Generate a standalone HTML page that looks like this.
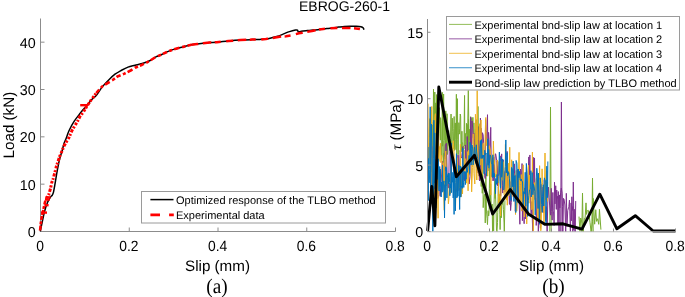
<!DOCTYPE html>
<html><head><meta charset="utf-8"><style>html,body{margin:0;padding:0;background:#fff;width:685px;height:297px;overflow:hidden}svg{display:block;will-change:transform}text{text-rendering:geometricPrecision}</style></head>
<body><svg width="685" height="297" viewBox="0 0 685 297">
<rect width="685" height="297" fill="#fff"/>
<line x1="40.5" y1="18.5" x2="40.5" y2="231.5" stroke="#8c8c8c" stroke-width="1"/>
<line x1="40.5" y1="231.5" x2="395.5" y2="231.5" stroke="#8c8c8c" stroke-width="1"/>
<line x1="40.5" y1="231.50" x2="44.5" y2="231.50" stroke="#8c8c8c" stroke-width="1"/>
<text x="35.7" y="237.00" text-anchor="end" style="font-family:'Liberation Sans',sans-serif;font-size:14.3px">0</text>
<line x1="40.5" y1="184.17" x2="44.5" y2="184.17" stroke="#8c8c8c" stroke-width="1"/>
<text x="35.7" y="189.67" text-anchor="end" style="font-family:'Liberation Sans',sans-serif;font-size:14.3px">10</text>
<line x1="40.5" y1="136.83" x2="44.5" y2="136.83" stroke="#8c8c8c" stroke-width="1"/>
<text x="35.7" y="142.33" text-anchor="end" style="font-family:'Liberation Sans',sans-serif;font-size:14.3px">20</text>
<line x1="40.5" y1="89.50" x2="44.5" y2="89.50" stroke="#8c8c8c" stroke-width="1"/>
<text x="35.7" y="95.00" text-anchor="end" style="font-family:'Liberation Sans',sans-serif;font-size:14.3px">30</text>
<line x1="40.5" y1="42.17" x2="44.5" y2="42.17" stroke="#8c8c8c" stroke-width="1"/>
<text x="35.7" y="47.67" text-anchor="end" style="font-family:'Liberation Sans',sans-serif;font-size:14.3px">40</text>
<line x1="40.50" y1="231.5" x2="40.50" y2="227.5" stroke="#8c8c8c" stroke-width="1"/>
<text transform="translate(40.10,250.5) scale(0.97,1.04)" text-anchor="middle" style="font-family:'Liberation Sans',sans-serif;font-size:14.3px">0</text>
<line x1="129.25" y1="231.5" x2="129.25" y2="227.5" stroke="#8c8c8c" stroke-width="1"/>
<text transform="translate(128.85,250.5) scale(0.97,1.04)" text-anchor="middle" style="font-family:'Liberation Sans',sans-serif;font-size:14.3px">0.2</text>
<line x1="218.00" y1="231.5" x2="218.00" y2="227.5" stroke="#8c8c8c" stroke-width="1"/>
<text transform="translate(217.60,250.5) scale(0.97,1.04)" text-anchor="middle" style="font-family:'Liberation Sans',sans-serif;font-size:14.3px">0.4</text>
<line x1="306.75" y1="231.5" x2="306.75" y2="227.5" stroke="#8c8c8c" stroke-width="1"/>
<text transform="translate(306.35,250.5) scale(0.97,1.04)" text-anchor="middle" style="font-family:'Liberation Sans',sans-serif;font-size:14.3px">0.6</text>
<line x1="395.50" y1="231.5" x2="395.50" y2="227.5" stroke="#8c8c8c" stroke-width="1"/>
<text transform="translate(395.10,250.5) scale(0.97,1.04)" text-anchor="middle" style="font-family:'Liberation Sans',sans-serif;font-size:14.3px">0.8</text>
<path d="M40.30,231.30 C40.98,228.08 43.20,216.80 44.40,212.00 C45.60,207.20 46.43,205.07 47.50,202.50 C48.57,199.93 50.02,197.80 50.80,196.60 C51.58,195.40 51.75,196.05 52.20,195.30 C52.65,194.55 53.08,193.72 53.50,192.10 C53.92,190.48 54.28,187.95 54.70,185.60 C55.12,183.25 55.57,180.55 56.00,178.00 C56.43,175.45 56.87,172.67 57.30,170.30 C57.73,167.93 58.18,165.77 58.60,163.80 C59.02,161.83 59.20,160.72 59.80,158.50 C60.40,156.28 61.50,152.98 62.20,150.50 C62.90,148.02 63.35,145.60 64.00,143.60 C64.65,141.60 65.25,140.68 66.10,138.50 C66.95,136.32 67.77,133.35 69.10,130.50 C70.43,127.65 72.25,124.27 74.10,121.40 C75.95,118.53 78.33,115.67 80.20,113.30 C82.07,110.93 83.28,109.57 85.30,107.20 C87.32,104.83 90.38,101.17 92.30,99.10 C94.22,97.03 95.17,96.80 96.80,94.80 C98.43,92.80 100.03,89.65 102.10,87.10 C104.17,84.55 107.05,81.65 109.20,79.50 C111.35,77.35 113.05,75.68 115.00,74.20 C116.95,72.72 118.73,71.78 120.90,70.60 C123.07,69.42 125.63,67.98 128.00,67.10 C130.37,66.22 132.73,65.90 135.10,65.30 C137.47,64.70 139.68,64.30 142.20,63.50 C144.72,62.70 147.92,61.60 150.20,60.50 C152.48,59.40 153.97,57.90 155.90,56.90 C157.83,55.90 159.83,55.38 161.80,54.50 C163.77,53.62 165.73,52.45 167.70,51.60 C169.67,50.75 171.63,50.03 173.60,49.40 C175.57,48.77 177.53,48.32 179.50,47.80 C181.47,47.28 183.43,46.80 185.40,46.30 C187.37,45.80 189.33,45.17 191.30,44.80 C193.27,44.43 195.23,44.35 197.20,44.10 C199.17,43.85 201.03,43.57 203.10,43.30 C205.17,43.03 207.32,42.68 209.60,42.50 C211.88,42.32 213.63,42.45 216.80,42.20 C219.97,41.95 224.67,41.35 228.60,41.00 C232.53,40.65 236.47,40.33 240.40,40.10 C244.33,39.87 248.93,39.72 252.20,39.60 C255.47,39.48 257.72,39.50 260.00,39.40 C262.28,39.30 263.93,39.27 265.90,39.00 C267.87,38.73 269.83,38.25 271.80,37.80 C273.77,37.35 275.73,36.95 277.70,36.30 C279.67,35.65 281.63,34.68 283.60,33.90 C285.57,33.12 287.53,32.23 289.50,31.60 C291.47,30.97 294.07,30.35 295.40,30.10 C296.73,29.85 297.02,29.80 297.50,30.10 C297.98,30.40 297.67,31.72 298.30,31.90 C298.93,32.08 299.82,31.42 301.30,31.20 C302.78,30.98 305.23,30.78 307.20,30.60 C309.17,30.42 311.03,30.27 313.10,30.10 C315.17,29.93 317.32,29.87 319.60,29.60 C321.88,29.33 324.62,28.78 326.80,28.50 C328.98,28.22 330.73,28.13 332.70,27.90 C334.67,27.67 336.63,27.35 338.60,27.10 C340.57,26.85 342.53,26.55 344.50,26.40 C346.47,26.25 348.43,26.23 350.40,26.20 C352.37,26.17 354.53,26.12 356.30,26.20 C358.07,26.28 359.83,26.42 361.00,26.70 C362.17,26.98 362.82,27.40 363.30,27.90 C363.78,28.40 363.80,29.40 363.90,29.70" fill="none" stroke="#000" stroke-width="1.5" stroke-linejoin="round"/>
<polyline points="40.10,230.50 40.70,224.00 41.40,219.00 42.30,214.50 43.30,210.00 44.10,206.00 45.00,202.00 46.50,198.50" fill="none" stroke="#ff0000" stroke-width="2.6" stroke-dasharray="5,1.2,3,1.5,4,1" stroke-linejoin="round"/>
<polyline points="46.50,198.50 48.90,194.10 50.50,188.50 51.70,182.80 53.30,178.40 54.40,174.00 55.40,170.30 56.50,165.80 58.10,161.30 59.60,156.70 62.10,150.80 64.00,146.00 66.00,142.60 69.00,137.50 72.00,130.50 75.00,125.40 78.00,120.40 80.00,116.30 83.20,112.30 86.30,107.20 90.30,101.20 93.30,97.10 96.20,93.00" fill="none" stroke="#ff0000" stroke-width="3" stroke-dasharray="2.6,1.3,1.9,1.6,3.3,1.2,2.2,1.8" stroke-linejoin="round"/>
<polyline points="96.20,93.00 102.10,86.50 106.80,83.60 112.70,80.00 117.40,76.50 124.50,73.60 131.60,70.00 135.10,67.70 142.20,64.70 149.20,61.20 155.90,56.90 161.80,54.50 167.70,51.60 173.60,49.40 179.50,47.80 185.40,46.30 191.30,44.80" fill="none" stroke="#ff0000" stroke-width="2.6" stroke-dasharray="4.5,2.5,3,2.2,5.5,2.8,3.5,2" stroke-linejoin="round"/>
<polyline points="191.30,44.80 197.20,44.10 203.10,43.30 209.60,42.50 216.80,42.20 228.60,41.00 240.40,40.10 252.20,39.60 260.00,39.50 265.90,39.00 275.30,37.50 281.20,36.60 286.00,36.30 290.70,35.50 298.90,33.30 302.50,32.70 307.20,31.90 311.90,31.00 319.00,29.40 323.30,28.90 330.00,28.20 336.00,27.90 344.50,27.90 353.30,28.20 358.00,28.70 364.00,29.90" fill="none" stroke="#ff0000" stroke-width="2.5" stroke-dasharray="7,4.6,8.5,3.5,6,5.5" stroke-linejoin="round"/>
<line x1="41" y1="212.6" x2="47" y2="212.6" stroke="#ff0000" stroke-width="2.4"/>
<line x1="44.4" y1="205.2" x2="48.6" y2="205.2" stroke="#ff0000" stroke-width="2.4"/>
<line x1="45" y1="199.6" x2="49.8" y2="199.6" stroke="#ff0000" stroke-width="2.4"/>
<line x1="45.5" y1="197.4" x2="50.5" y2="197.4" stroke="#ff0000" stroke-width="2.4"/>
<line x1="80.2" y1="105.2" x2="87.3" y2="105.2" stroke="#ff0000" stroke-width="2.4"/>
<line x1="87.3" y1="105.2" x2="85.2" y2="108.5" stroke="#ff0000" stroke-width="2.2"/>
<rect x="141.5" y="191.5" width="244" height="31.5" fill="#fff" stroke="#9a9a9a" stroke-width="1"/>
<line x1="150.4" y1="199.6" x2="173.5" y2="199.6" stroke="#000" stroke-width="1.5"/>
<line x1="150.4" y1="214.9" x2="173.8" y2="214.9" stroke="#ff0000" stroke-width="2.6" stroke-dasharray="9.6,9.1"/>
<text x="176" y="203.7" style="font-family:'Liberation Sans',sans-serif;font-size:11px">Optimized response of the TLBO method</text>
<text x="176" y="219" style="font-family:'Liberation Sans',sans-serif;font-size:11px">Experimental data</text>
<text x="217.5" y="270.6" text-anchor="middle" style="font-family:'Liberation Sans',sans-serif;font-size:15.2px">Slip (mm)</text>
<text transform="translate(217,292.5) scale(1,1.08)" text-anchor="middle" style="font-family:'Liberation Serif',serif;font-size:19.2px">(a)</text>
<text transform="translate(14,125.1) rotate(-90)" text-anchor="middle" style="font-family:'Liberation Sans',sans-serif;font-size:15.2px">Load (kN)</text>
<text x="344.5" y="10.6" text-anchor="middle" style="font-family:'Liberation Sans',sans-serif;font-size:14.0px">EBROG-260-1</text>
<polyline points="429.00,136.05 429.50,136.76 429.88,119.44 430.27,174.66 430.48,157.48 430.67,167.87 431.07,145.47 431.26,172.01 431.51,110.12 431.84,158.79 432.24,138.18 432.58,124.95 433.10,158.02 433.39,122.03 433.59,153.45 434.06,131.13 434.53,108.72 435.02,135.77 435.34,112.97 435.78,102.86 436.30,151.76 436.56,94.60 436.80,140.38 437.04,149.97 437.44,115.54 437.69,124.06 438.14,125.91 438.39,130.84 438.79,114.71 439.04,123.32 439.33,107.67 439.71,122.45 440.02,133.73 440.36,140.15 440.60,117.67 441.06,122.72 441.49,159.05 442.00,155.72 442.32,92.34 442.58,146.20 443.05,140.45 443.28,165.18 443.65,153.31 443.93,156.47 444.11,123.53 444.30,118.82 444.68,116.57 445.16,158.98 445.58,139.14 445.77,110.89 446.19,171.15 446.53,146.24 447.06,113.72 447.49,154.45 447.91,149.09 448.21,143.71 448.69,130.47 449.17,138.04 449.48,138.48 449.68,141.22 450.16,145.47 450.59,138.24 451.06,114.06 451.25,139.13 451.50,143.78 451.89,154.44 452.07,124.52 452.32,118.17 452.72,131.24 453.01,141.96 453.34,148.62 453.82,128.37 454.11,116.50 454.58,150.40 455.08,123.14 455.42,123.04 455.74,139.61 456.02,149.64 456.36,94.29 456.55,143.39 456.83,159.49 457.16,111.16 457.42,98.67 457.75,139.49 458.21,154.76 458.45,132.16 458.63,132.00 458.87,122.67 459.29,134.16 459.73,128.23 460.22,114.03 460.65,115.99 461.04,151.85 461.42,150.36 461.92,131.22 462.17,143.00 462.57,142.73 463.06,154.60 463.42,145.90 463.92,148.74 464.12,129.94 464.56,95.44 464.76,146.04 465.05,145.48 465.28,133.34 465.75,141.37 466.10,159.72 466.46,123.34 466.85,134.17 467.23,124.49 467.70,152.14 468.17,155.63 468.54,119.52 468.90,175.05 469.25,129.16 469.62,133.61 469.82,135.97 470.33,154.86 470.67,116.66 471.13,154.30 471.42,120.35 471.92,117.76 472.10,121.01 472.52,127.47 472.91,117.36 473.13,136.96 473.37,138.09 473.68,132.72 473.91,122.89 474.31,138.74 474.69,154.63 475.13,152.72 475.41,129.33 475.67,162.03 475.89,126.09 476.15,119.53 476.48,152.68 476.79,166.48 477.21,158.94 477.42,139.88 477.77,148.65 477.97,106.45 478.33,143.52 478.57,126.48 479.09,165.51 479.60,139.42 479.89,139.86 481.00,179.06 481.23,186.51 481.84,154.59 482.27,193.29 482.67,158.34 482.97,180.85 483.20,207.65 483.79,197.21 484.40,194.47 484.81,194.00 485.26,222.95 485.85,173.61 486.48,211.12 487.06,218.44 487.47,224.56 488.09,210.65 488.66,215.99 489.06,213.44 489.32,188.48 489.76,167.93 490.14,208.98 490.65,183.85 491.30,211.50 491.68,211.36 492.16,204.13 492.56,231.99 493.07,214.71 493.64,230.87 493.87,210.37 494.43,191.01 494.84,180.42 495.15,198.47 495.42,192.18 496.05,208.65 496.51,230.32 496.99,231.76 497.50,222.67 497.76,212.49 498.32,186.78 498.97,193.30 499.40,194.45 499.85,214.78 500.10,229.60 500.52,211.67 501.01,205.37 501.37,217.77 501.84,203.12 502.39,204.39 502.62,202.74 502.87,199.73 503.43,209.34 504.06,222.97 504.31,231.60 504.96,200.42" fill="none" stroke="#77ac30" stroke-width="1" stroke-linejoin="round"/>
<polyline points="433.00,150.00 433.50,89.00 434.20,140.00 434.80,92.00 435.50,150.00" fill="none" stroke="#77ac30" stroke-width="1" stroke-linejoin="round"/>
<polyline points="443.00,140.00 443.60,94.00 444.20,140.00" fill="none" stroke="#77ac30" stroke-width="1" stroke-linejoin="round"/>
<polyline points="467.50,140.00 468.30,90.50 469.00,140.00" fill="none" stroke="#77ac30" stroke-width="1" stroke-linejoin="round"/>
<polyline points="549.80,232.00 550.50,107.00 551.20,232.00" fill="none" stroke="#77ac30" stroke-width="1" stroke-linejoin="round"/>
<polyline points="579.00,216.60 579.98,231.24 580.72,218.01 582.16,223.32 583.13,231.31 584.44,218.36 585.06,218.75 586.01,202.88 586.57,214.39 587.19,210.73 588.36,210.35 589.12,214.95 590.04,222.69 591.07,231.90 592.52,221.68 593.26,198.40 594.65,224.20 595.78,209.72 596.55,221.35 597.62,218.74 598.75,224.34 599.44,209.32 600.92,229.61" fill="none" stroke="#77ac30" stroke-width="1" stroke-linejoin="round"/>
<polyline points="581.80,232.00 582.50,193.00 583.20,232.00" fill="none" stroke="#77ac30" stroke-width="1" stroke-linejoin="round"/>
<polyline points="591.80,232.00 592.50,178.00 593.20,232.00" fill="none" stroke="#77ac30" stroke-width="1" stroke-linejoin="round"/>
<polyline points="430.00,143.24 430.50,162.01 431.34,190.05 431.88,183.09 432.39,146.57 433.45,182.68 434.47,168.25 435.35,155.39 436.11,195.42 437.32,144.60 437.87,198.52 438.89,194.58 439.53,169.26 440.21,196.31 440.99,184.74 442.33,161.11 443.28,189.77 444.55,167.27 445.34,144.63 446.57,143.16 447.10,175.23 447.99,182.70 448.70,188.14 449.22,151.40 450.27,142.69 450.99,183.39 452.07,154.98 452.65,159.46 453.75,159.57 454.30,180.31 455.27,192.36 456.56,191.04 457.41,183.89 458.13,155.03 458.94,190.44 460.20,150.37 460.97,156.74 461.75,158.12 462.55,146.71 463.50,179.33 464.44,180.81 465.40,144.98 466.53,181.64 467.23,136.50 468.15,163.15 469.11,184.04 470.00,176.56 470.71,117.05 471.39,165.11 472.01,120.91 472.64,127.12 473.34,143.88 473.83,133.07 474.48,142.74 475.15,156.11 475.65,163.62 476.39,162.86 477.16,172.75 477.72,157.74 478.23,139.93 478.91,176.12 479.28,126.75 479.71,180.99 480.05,155.18 480.43,118.06 481.02,179.57 481.40,128.25 482.07,152.86 482.44,132.71 483.14,134.96 483.86,146.24 484.62,175.30 485.20,178.56 485.60,119.53 486.31,142.61 486.87,136.48 487.51,114.70 487.99,170.87 488.59,132.34 489.05,139.40 489.61,162.98 490.03,157.45 490.73,127.35 491.47,176.62 491.89,171.15 492.43,157.72 493.03,180.89 493.74,156.91 494.06,180.59 494.63,164.50 495.37,153.70 495.68,153.93 496.35,158.06 496.69,160.52 497.49,185.68 497.77,161.39 498.18,172.23 498.46,195.83 498.85,176.08 499.33,172.73 499.79,165.57 500.21,155.84 500.66,196.27 501.34,163.95 501.66,153.89 502.31,185.46 502.81,193.11 503.13,159.85 503.47,170.13 504.26,172.03 504.89,191.75 505.37,167.72 505.66,171.88 506.47,194.72 507.08,151.37 507.55,187.90 508.03,180.26 508.76,186.84 509.45,204.43 509.92,181.53 510.59,210.56 511.26,202.45 512.05,191.01 512.37,168.73 513.03,174.30 513.51,182.68 514.32,163.85 514.89,189.83 515.31,211.23 516.04,193.41 516.76,175.11 517.17,192.82 517.55,191.61 517.84,169.40 518.63,199.45 519.28,204.99 519.88,224.26 520.41,169.11 521.00,171.35 521.42,195.99 522.05,163.57 522.40,220.69 522.93,187.15 523.59,208.88 524.13,223.73 524.88,188.09 525.46,218.91 526.03,190.15 526.48,167.24 527.25,209.20 527.94,183.41 528.25,172.56 528.80,156.94 529.36,180.22 529.86,154.98 530.66,206.96 531.17,215.73 531.86,201.58 532.19,215.47 532.76,231.31 533.20,157.18 533.92,192.43 534.52,157.93 534.96,199.13 535.77,198.02 536.21,225.43 536.59,220.52 537.13,180.64 537.95,182.93 538.33,232.00 539.00,190.21 539.76,214.66 540.42,228.28 540.73,185.74 541.40,184.46 541.80,212.24 542.28,212.18 542.88,187.07 543.67,212.75 544.30,179.74 544.81,205.06 545.11,209.21 545.53,220.85 545.96,218.23 546.39,206.66 547.15,232.00 547.84,198.09 548.39,187.11 549.02,197.22 549.73,205.98 550.47,215.15 551.27,188.36 551.63,211.39 552.15,220.14 552.86,192.45 553.26,210.38 553.55,211.32 554.14,225.53 554.50,182.23 555.01,203.90 555.73,185.77 556.31,209.41 556.72,190.01 557.02,198.41 557.58,196.26 557.91,223.32 558.32,191.57 559.05,232.00 559.53,194.92 559.83,207.95 560.64,192.31 561.33,188.04 562.09,193.34 562.53,206.32 562.83,231.83 563.51,198.34 564.08,199.26 564.87,205.01 565.69,232.00 566.32,193.33 566.98,226.51 567.74,210.64 568.48,207.83 568.87,206.76 569.45,200.11 569.84,211.89 570.36,231.75 571.11,202.90 571.43,220.80 571.85,196.78 572.27,210.45 572.94,206.50 573.30,229.81 574.00,222.63 574.28,209.21 574.60,228.08 575.30,232.00 575.71,201.04" fill="none" stroke="#7e2f8e" stroke-width="1" stroke-linejoin="round"/>
<polyline points="560.70,232.00 561.40,102.00 562.10,232.00" fill="none" stroke="#7e2f8e" stroke-width="1" stroke-linejoin="round"/>
<polyline points="572.60,232.00 573.30,182.00 574.00,232.00" fill="none" stroke="#7e2f8e" stroke-width="1" stroke-linejoin="round"/>
<polyline points="428.00,103.65 428.55,162.67 429.28,130.74 429.98,118.48 430.45,181.88 430.98,198.81 431.45,141.39 431.78,106.46 432.42,192.23 432.90,177.23 433.33,179.25 434.20,198.23 434.88,116.32 435.41,113.68 435.91,159.36 436.31,149.73 436.71,176.78 437.06,143.87 437.45,168.45 438.08,218.24 438.60,118.57 438.94,161.46 439.52,146.57 439.83,149.36 440.47,143.31 440.88,162.64 441.76,155.38 442.62,190.10 443.29,162.76 443.76,195.09 444.29,210.31 444.89,159.09 445.78,150.97 446.22,186.03 446.52,177.15 446.96,173.83 447.59,182.08 448.39,203.75 448.90,198.32 449.62,186.04 450.50,193.77 451.18,172.84 451.70,160.13 452.32,157.10 452.81,153.48 453.19,140.70 453.91,149.57 454.67,171.40 455.49,206.78 456.10,189.47 456.83,157.67 457.32,162.35 458.13,190.37 458.68,183.24 459.48,188.20 460.01,180.63 460.42,144.25 461.28,196.61 462.00,166.36 462.53,193.90 462.86,181.93 463.19,159.03 464.08,150.20 464.40,172.36 464.92,160.06 465.73,158.66 466.40,183.18 466.93,179.34 467.71,151.61 468.08,190.84 468.67,150.30 468.98,172.24 469.66,157.81 470.25,162.19 470.58,147.64 471.06,148.34 471.65,191.87 472.47,167.39 473.26,133.81 473.95,173.39 474.81,184.00 475.00,168.69 475.41,114.25 475.78,117.90 476.53,134.68 476.84,128.22 477.14,150.06 477.92,164.98 478.70,172.02 479.59,123.72 480.13,165.19 480.98,119.96 481.41,145.09 482.11,174.33 482.79,144.20 483.63,142.90 484.14,171.72 484.88,159.32 485.29,130.10 485.80,117.49 486.34,145.71 487.21,138.78 487.70,176.19 488.60,155.36 489.03,154.34 489.43,145.72 490.30,150.04 490.82,195.12 491.50,155.48 491.93,171.73 492.74,173.57 493.38,141.12 494.09,164.03 494.65,160.42 495.31,173.27 495.63,177.12 496.28,175.90 496.67,168.56 497.42,159.95 498.31,166.73 498.68,203.08 499.13,194.44 499.99,194.74 500.59,215.95 501.32,160.97 501.89,178.61 502.31,163.41 502.66,180.32 503.25,161.78 504.06,194.52 504.91,196.78 505.43,144.38 506.25,200.13 506.65,173.16 507.32,205.19 508.22,163.09 509.04,195.85 509.74,147.26 510.23,190.72 510.90,195.29 511.27,195.52 511.65,159.80 512.32,175.34 513.21,196.92 513.73,173.39 514.12,193.83 514.91,180.45 515.51,214.50 516.23,170.42 516.71,211.13 517.52,199.36 518.38,181.63 519.04,152.35 519.51,185.85 519.98,202.46 520.43,184.49 521.27,174.56 521.77,211.15 522.43,193.81 523.27,164.82 523.79,205.63 524.30,217.00 524.61,200.16 525.13,189.58 525.83,198.84 526.72,223.93 527.51,202.28 528.41,165.26 528.95,203.19 529.85,174.92 530.23,186.91 530.58,172.46 531.26,209.51 532.04,209.08 532.41,152.12 533.28,230.96 533.90,197.12 534.68,182.54 535.05,199.72 535.40,196.28 536.17,179.57 536.50,177.82 537.14,193.52 537.50,218.66 538.38,198.16 539.05,220.09 539.60,165.68 540.39,212.29 540.78,230.75 541.26,227.43 542.07,168.83 542.42,182.70 543.27,187.35 543.96,223.31 544.60,198.85 545.14,186.14 545.60,190.68 546.18,190.29 546.75,170.73 547.09,201.46 547.63,182.12" fill="none" stroke="#edb120" stroke-width="1" stroke-linejoin="round"/>
<polyline points="476.50,180.00 477.20,90.60 478.00,180.00" fill="none" stroke="#edb120" stroke-width="1" stroke-linejoin="round"/>
<polyline points="544.30,200.00 545.00,153.00 545.70,200.00" fill="none" stroke="#edb120" stroke-width="1" stroke-linejoin="round"/>
<polyline points="428.00,146.99 428.29,200.57 428.50,158.54 428.70,181.18 429.04,181.54 429.37,182.67 429.69,169.44 430.19,106.84 430.50,203.04 431.04,158.64 431.52,124.26 432.05,150.46 432.58,197.20 432.80,231.54 433.22,209.02 433.43,208.95 433.86,120.25 434.23,183.20 434.80,132.91 435.17,188.82 435.55,165.26 435.88,208.03 436.41,183.31 436.66,149.72 437.24,179.38 437.52,172.40 438.06,160.30 438.45,158.84 438.80,189.90 439.20,191.02 439.71,166.50 439.97,186.57 440.31,168.99 440.75,183.75 441.18,196.99 441.61,182.06 441.94,190.90 442.25,192.20 442.55,165.10 442.90,191.52 443.35,185.12 443.91,180.92 444.21,192.76 444.53,217.88 444.96,184.64 445.22,200.37 445.74,166.76 446.03,170.76 446.47,167.73 446.90,197.92 447.38,177.18 447.87,174.37 448.36,173.38 448.57,183.74 448.88,172.94 449.28,173.70 449.59,182.59 449.85,195.70 450.30,183.83 450.71,188.10 451.22,143.08 451.56,192.65 451.95,177.33 452.52,182.23 452.86,172.31 453.11,197.86 453.34,196.41 453.76,168.32 454.09,214.38 454.31,165.17 454.91,188.37 455.42,210.93 455.69,182.71 456.09,171.23 456.46,153.70 456.88,197.96 457.14,174.81 457.62,196.61 458.20,196.00 458.77,165.41 459.21,187.72 459.65,209.52 460.24,165.97 460.78,197.13 461.32,185.93 461.75,187.38 461.95,167.13 462.54,188.31 462.87,148.35 463.18,180.74 463.51,182.66 463.81,187.44 464.07,171.64 464.58,173.29 465.04,171.40 465.34,184.65 465.64,172.02 466.13,179.23 466.54,167.30 466.84,169.87 467.44,172.30 468.00,164.76 468.32,159.91 468.74,160.15 469.13,155.37 469.62,173.43 470.06,142.31 470.38,146.02 471.11,165.04 471.83,144.89 472.55,146.48 473.14,164.90 473.86,153.90 474.17,149.21 474.46,146.96 474.73,150.34 475.04,156.38 475.58,162.99 476.30,144.81 476.59,151.14 477.30,156.77 477.72,158.74 478.36,170.28 478.92,167.06 479.26,170.00 479.52,165.05 479.80,148.28 480.42,140.58 481.07,158.50 481.55,139.67 481.82,151.96 482.25,158.44 482.66,155.21 483.20,157.32 483.68,155.01 484.05,173.68 484.74,150.28 485.48,154.55 486.10,153.14 486.42,176.10 486.72,167.98 487.25,162.18 487.76,138.73 488.14,165.26 488.63,149.44 489.12,168.15 489.51,161.70 490.16,154.95 490.81,155.94 491.31,162.15 492.03,164.81 492.43,177.54 492.85,154.80 493.51,177.05 494.22,173.27 494.83,178.31 495.17,178.76 495.54,193.66 495.96,178.53 496.67,184.43 496.95,174.54 497.69,182.95 498.03,176.35 498.77,174.08 499.39,152.13 500.02,181.43 500.56,188.15 501.05,166.01 501.31,157.15 501.68,177.26 502.28,172.06 502.66,158.95 503.25,190.08 503.97,189.35 504.69,177.85 505.33,166.44 505.84,139.98 506.36,172.85 506.74,161.67 507.11,152.77 507.53,175.84 508.10,171.47 508.47,174.20 508.78,172.66 509.41,178.22 510.13,193.45 510.65,197.88 511.00,200.50 511.52,167.45 512.14,169.81 512.71,186.84 513.18,161.20 513.90,201.49 514.29,187.40 514.60,175.88 515.23,175.27 515.82,212.52 516.13,160.48 516.39,161.41 516.87,163.11 517.55,180.38 517.96,202.74 518.36,169.03 518.86,177.78 519.56,171.33 520.16,180.24 520.63,180.64 521.19,178.98 521.83,181.20 522.52,181.46 523.22,205.09 523.67,191.60 524.07,194.11 524.64,191.86 525.22,172.32 525.74,206.16 526.35,163.46 526.98,174.54 527.34,180.86 527.69,216.49 528.35,200.76 528.89,195.40 529.52,189.74 530.12,189.19 530.86,170.69 531.27,196.94 531.66,190.05 532.16,172.58 532.86,194.75 533.51,184.29 534.06,186.28 534.81,191.37 535.23,214.95 535.83,197.06 536.27,178.97 536.79,168.25 537.37,173.95 538.05,208.54 538.39,173.03 539.04,200.41 539.53,224.26 540.21,177.87 540.81,183.59 541.17,189.68 541.64,204.57 542.20,212.36 542.56,196.56 543.29,184.77 543.76,206.02 544.35,177.85 544.95,180.03 545.64,180.76 546.00,224.72 546.28,207.53 546.82,166.20 547.57,197.64 547.85,161.48" fill="none" stroke="#0072bd" stroke-width="1" stroke-linejoin="round"/>
<polyline points="427.60,231.00 431.80,186.40 434.90,225.80 438.80,87.00 456.30,176.70 474.50,155.30 492.70,214.00 510.30,189.60 528.40,213.90 545.20,224.40 563.00,223.80 582.00,229.10 599.80,194.20 616.90,228.80 635.30,215.70 653.20,231.00 675.50,231.00" fill="none" stroke="#000" stroke-width="2.9" stroke-linejoin="round"/>
<line x1="427.5" y1="19.0" x2="427.5" y2="231.5" stroke="#8c8c8c" stroke-width="1"/>
<line x1="427.5" y1="231.8" x2="675.5" y2="231.8" stroke="#b8b8b8" stroke-width="1.1"/>
<line x1="427.5" y1="231.50" x2="430.5" y2="231.50" stroke="#8c8c8c" stroke-width="1"/>
<text x="423.1" y="237.00" text-anchor="end" style="font-family:'Liberation Sans',sans-serif;font-size:14.3px">0</text>
<line x1="427.5" y1="165.09" x2="430.5" y2="165.09" stroke="#8c8c8c" stroke-width="1"/>
<text x="423.1" y="170.59" text-anchor="end" style="font-family:'Liberation Sans',sans-serif;font-size:14.3px">5</text>
<line x1="427.5" y1="98.69" x2="430.5" y2="98.69" stroke="#8c8c8c" stroke-width="1"/>
<text x="423.1" y="104.19" text-anchor="end" style="font-family:'Liberation Sans',sans-serif;font-size:14.3px">10</text>
<line x1="427.5" y1="32.28" x2="430.5" y2="32.28" stroke="#8c8c8c" stroke-width="1"/>
<text x="423.1" y="37.78" text-anchor="end" style="font-family:'Liberation Sans',sans-serif;font-size:14.3px">15</text>
<line x1="427.50" y1="231.5" x2="427.50" y2="228.5" stroke="#8c8c8c" stroke-width="1"/>
<text transform="translate(427.10,250.5) scale(0.97,1.04)" text-anchor="middle" style="font-family:'Liberation Sans',sans-serif;font-size:14.3px">0</text>
<line x1="489.50" y1="231.5" x2="489.50" y2="228.5" stroke="#8c8c8c" stroke-width="1"/>
<text transform="translate(489.10,250.5) scale(0.97,1.04)" text-anchor="middle" style="font-family:'Liberation Sans',sans-serif;font-size:14.3px">0.2</text>
<line x1="551.50" y1="231.5" x2="551.50" y2="228.5" stroke="#8c8c8c" stroke-width="1"/>
<text transform="translate(551.10,250.5) scale(0.97,1.04)" text-anchor="middle" style="font-family:'Liberation Sans',sans-serif;font-size:14.3px">0.4</text>
<line x1="613.50" y1="231.5" x2="613.50" y2="228.5" stroke="#8c8c8c" stroke-width="1"/>
<text transform="translate(613.10,250.5) scale(0.97,1.04)" text-anchor="middle" style="font-family:'Liberation Sans',sans-serif;font-size:14.3px">0.6</text>
<line x1="675.50" y1="231.5" x2="675.50" y2="228.5" stroke="#8c8c8c" stroke-width="1"/>
<text transform="translate(675.10,250.5) scale(0.97,1.04)" text-anchor="middle" style="font-family:'Liberation Sans',sans-serif;font-size:14.3px">0.8</text>
<rect x="446.5" y="16.5" width="233" height="73.5" fill="#fff" stroke="#9a9a9a" stroke-width="1"/>
<line x1="449" y1="24.40" x2="472" y2="24.40" stroke="#77ac30" stroke-width="0.8"/>
<text x="474.5" y="28.70" style="font-family:'Liberation Sans',sans-serif;font-size:11px">Experimental bnd-slip law at location 1</text>
<line x1="449" y1="38.85" x2="472" y2="38.85" stroke="#7e2f8e" stroke-width="0.8"/>
<text x="474.5" y="43.15" style="font-family:'Liberation Sans',sans-serif;font-size:11px">Experimental bnd-slip law at location 2</text>
<line x1="449" y1="53.30" x2="472" y2="53.30" stroke="#edb120" stroke-width="0.8"/>
<text x="474.5" y="57.60" style="font-family:'Liberation Sans',sans-serif;font-size:11px">Experimental bnd-slip law at location 3</text>
<line x1="449" y1="67.75" x2="472" y2="67.75" stroke="#0072bd" stroke-width="0.8"/>
<text x="474.5" y="72.05" style="font-family:'Liberation Sans',sans-serif;font-size:11px">Experimental bnd-slip law at location 4</text>
<line x1="449" y1="82.20" x2="472" y2="82.20" stroke="#000" stroke-width="2.9"/>
<text x="474.5" y="86.50" style="font-family:'Liberation Sans',sans-serif;font-size:11px">Bond-slip law prediction by TLBO method</text>
<text x="551.5" y="270.6" text-anchor="middle" style="font-family:'Liberation Sans',sans-serif;font-size:15.2px">Slip (mm)</text>
<text transform="translate(553.5,292.5) scale(1,1.08)" text-anchor="middle" style="font-family:'Liberation Serif',serif;font-size:19.2px">(b)</text>
<text transform="translate(401.4,124.5) rotate(-90)" text-anchor="middle" style="font-family:'Liberation Sans',sans-serif;font-size:15.2px"><tspan style="font-style:italic;font-family:'Liberation Serif',serif;font-size:14px">τ</tspan> (MPa)</text>
</svg></body></html>
